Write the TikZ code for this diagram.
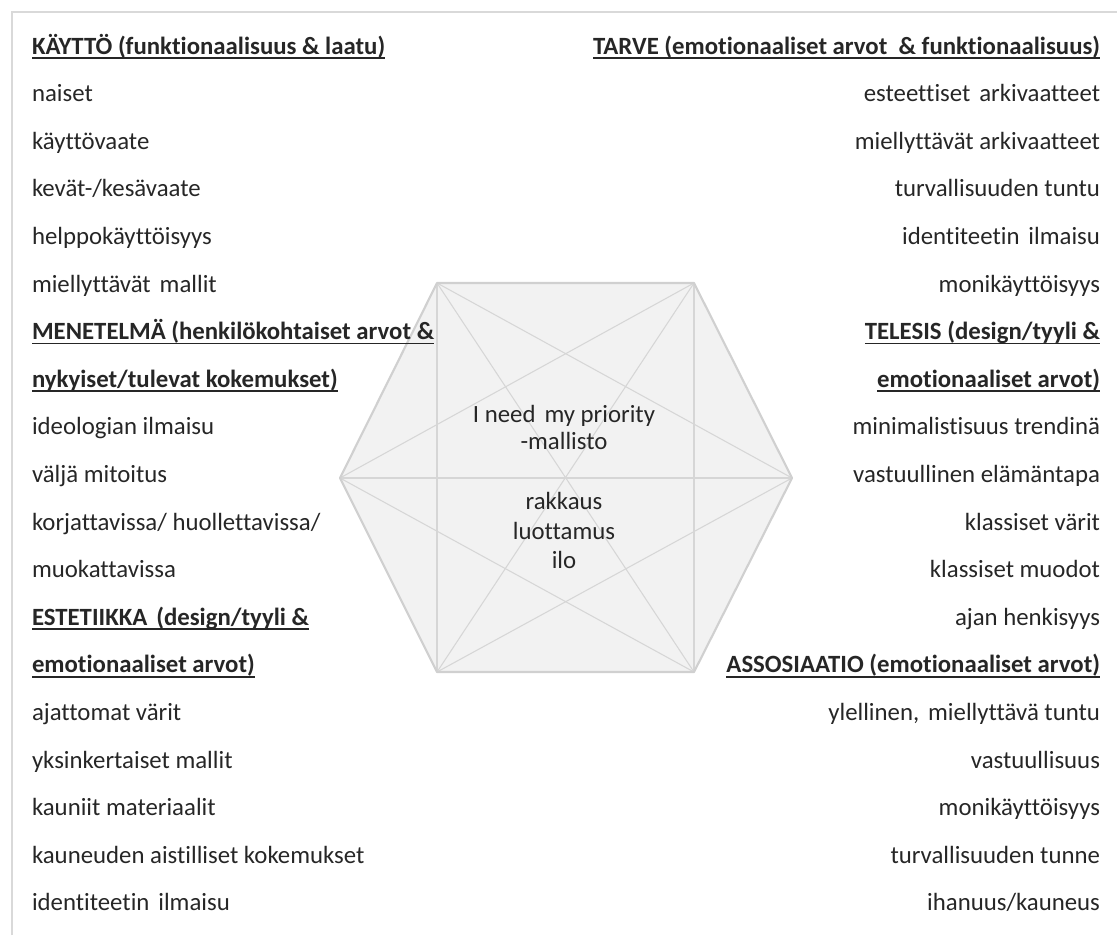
\documentclass[tikz,border=0pt]{standalone}
\usepackage{fontspec}
\setmainfont{Carlito}[Ligatures={NoCommon}]
\definecolor{txt}{HTML}{262626}
\definecolor{framec}{HTML}{D9D9D9}
\definecolor{hexfill}{HTML}{F2F2F2}
\definecolor{hexline}{HTML}{D0D0D0}
\definecolor{diagline}{HTML}{D6D6D6}
\newcommand{\wsp}{\hspace{2.5pt}}
\begin{document}
\begin{tikzpicture}[x=0.75pt,y=-0.75pt,
  item/.style={font=\fontsize{18.6}{22}\selectfont, text=txt, inner sep=0pt, outer sep=0pt},
  leftitem/.style={item, anchor=base west},
  rightitem/.style={item, anchor=base east},
  uline/.style={draw=txt, line width=1.1pt},
  hexedge/.style={draw=hexline, line width=1.6pt, line join=round},
  hexdiag/.style={draw=diagline, line width=0.8pt},
  centertext/.style={item, align=center}]
\useasboundingbox (0,0) rectangle (1117,935);
% frame
\draw[draw=framec, line width=1.5pt] (12,935) -- (12,12) -- (1117,12);
% hexagon
\coordinate (TL) at (437,283);
\coordinate (TR) at (694,283);
\coordinate (R)  at (792,478);
\coordinate (BR) at (694,672);
\coordinate (BL) at (437,672);
\coordinate (L)  at (340,478);
\fill[hexfill] (TL) -- (TR) -- (R) -- (BR) -- (BL) -- (L) -- cycle;
\foreach \a/\b in {TL/BR, TR/BL, L/R, TL/BL, TR/BR, TL/R, BL/R, TR/L, BR/L}
  \draw[hexdiag] (\a) -- (\b);
\draw[hexedge] (TL) -- (TR) -- (R) -- (BR) -- (BL) -- (L) -- cycle;
% centre text
\node[centertext, anchor=base] (c1) at (564,422) {I need\wsp\ my priority};
\node[centertext, anchor=base] (c2) at (564,449) {-mallisto};
\node[centertext, anchor=base] (c3) at (564,509) {rakkaus};
\node[centertext, anchor=base] (c4) at (564,539) {luottamus};
\node[centertext, anchor=base] (c5) at (564,568) {ilo};
% left column
\foreach \t [count=\i] in {
  {\textbf{KÄYTTÖ (funktionaalisuus \& laatu)}},
  {naiset},
  {käyttövaate},
  {kevät-/kesävaate},
  {helppokäyttöisyys},
  {miellyttävät\wsp\ mallit},
  {\textbf{MENETELMÄ (henkilökohtaiset arvot \&}},
  {\textbf{nykyiset/tulevat kokemukset)}},
  {ideologian ilmaisu},
  {väljä mitoitus},
  {korjattavissa/ huollettavissa/},
  {muokattavissa},
  {\textbf{ESTETIIKKA\wsp\ (design/tyyli \&}},
  {\textbf{emotionaaliset arvot)}},
  {ajattomat värit},
  {yksinkertaiset mallit},
  {kauniit materiaalit},
  {kauneuden aistilliset kokemukset},
  {identiteetin\wsp\ ilmaisu}}
  \node[leftitem] (l\i) at (32,{54+47.6*(\i-1)}) {\t};
% right column
\foreach \t [count=\i] in {
  {\textbf{TARVE (emotionaaliset arvot\ \ \& funktionaalisuus)}},
  {esteettiset\wsp\ arkivaatteet},
  {miellyttävät arkivaatteet},
  {turvallisuuden tuntu},
  {identiteetin\wsp\ ilmaisu},
  {monikäyttöisyys},
  {\textbf{TELESIS (design/tyyli \&}},
  {\textbf{emotionaaliset arvot)}},
  {minimalistisuus trendinä},
  {vastuullinen elämäntapa},
  {klassiset värit},
  {klassiset muodot},
  {ajan henkisyys},
  {\textbf{ASSOSIAATIO (emotionaaliset arvot)}},
  {ylellinen,\wsp\ miellyttävä tuntu},
  {vastuullisuus},
  {monikäyttöisyys},
  {turvallisuuden tunne},
  {ihanuus/kauneus}}
  \node[rightitem] (r\i) at (1100,{54+47.6*(\i-1)}) {\t};
% underlines of headings
\foreach \n in {l1,l7,l8,l13,l14,r1,r7,r8,r14}
  \draw[uline] ([yshift=-3pt]\n.base west) -- ([yshift=-3pt]\n.base east);
\end{tikzpicture}
\end{document}
